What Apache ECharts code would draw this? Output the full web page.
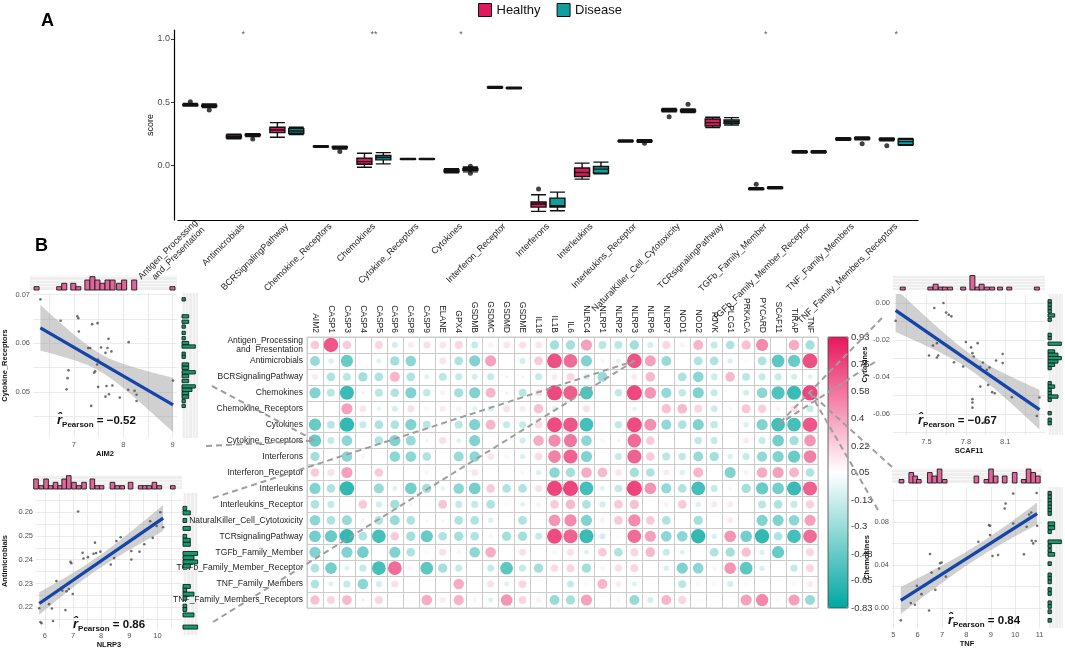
<!DOCTYPE html>
<html>
<head>
<meta charset="utf-8">
<script src="https://cdn.jsdelivr.net/npm/echarts@6/dist/echarts.min.js"></script>
<style>
  html, body { margin: 0; padding: 0; background: #fff; }
  #main { width: 1065px; height: 650px; }
</style>
</head>
<body>
<div id="main"></div>
<script>
// ---------- panel A: pathway scores ----------
const groups = ['Healthy', 'Disease'];
const pathways = ['Antigen_Processing\nand_Presentation', 'Antimicrobials', 'BCRSignalingPathway',
  'Chemokine_Receptors', 'Chemokines', 'Cytokine_Receptors', 'Cytokines', 'Interferon_Receptor',
  'Interferons', 'Interleukins', 'Interleukins_Receptor', 'NaturalKiller_Cell_Cytotoxicity',
  'TCRsignalingPathway', 'TGFb_Family_Member', 'TGFb_Family_Member_Receptor',
  'TNF_Family_Members', 'TNF_Family_Members_Receptors'];
// [min, Q1, median, Q3, max]
const healthyBox = [
  [0.470, 0.474, 0.478, 0.483, 0.490], [0.212, 0.218, 0.228, 0.240, 0.248],
  [0.223, 0.260, 0.281, 0.302, 0.339], [0.143, 0.147, 0.150, 0.153, 0.157],
  [-0.013, 0.010, 0.031, 0.058, 0.097], [0.048, 0.050, 0.052, 0.054, 0.056],
  [-0.058, -0.050, -0.042, -0.035, -0.025], [0.610, 0.614, 0.617, 0.620, 0.624],
  [-0.362, -0.328, -0.304, -0.288, -0.231], [-0.107, -0.087, -0.055, -0.020, 0.019],
  [0.186, 0.191, 0.194, 0.197, 0.202], [0.425, 0.433, 0.438, 0.443, 0.450],
  [0.299, 0.312, 0.339, 0.367, 0.381], [-0.192, -0.188, -0.184, -0.180, -0.175],
  [0.098, 0.104, 0.108, 0.112, 0.118], [0.200, 0.206, 0.210, 0.214, 0.220],
  [0.196, 0.203, 0.207, 0.211, 0.218]
];
const diseaseBox = [
  [0.458, 0.467, 0.472, 0.477, 0.486], [0.228, 0.236, 0.241, 0.246, 0.252],
  [0.244, 0.255, 0.273, 0.291, 0.302], [0.130, 0.140, 0.144, 0.148, 0.153],
  [0.013, 0.045, 0.063, 0.079, 0.102], [0.048, 0.050, 0.052, 0.054, 0.056],
  [-0.050, -0.038, -0.031, -0.024, -0.012], [0.605, 0.609, 0.612, 0.615, 0.619],
  [-0.357, -0.328, -0.317, -0.257, -0.210], [-0.065, -0.060, -0.028, -0.008, 0.027],
  [0.184, 0.190, 0.194, 0.198, 0.203], [0.418, 0.427, 0.433, 0.438, 0.446],
  [0.320, 0.333, 0.346, 0.360, 0.378], [-0.183, -0.179, -0.176, -0.172, -0.168],
  [0.098, 0.104, 0.108, 0.112, 0.118], [0.203, 0.210, 0.215, 0.220, 0.226],
  [0.160, 0.165, 0.189, 0.207, 0.214]
];
// [pathway index, value]
const healthyOutliers = [[0, 0.504], [8, -0.186], [11, 0.386], [13, -0.147], [16, 0.157]];
const diseaseOutliers = [[0, 0.438], [1, 0.210], [3, 0.110], [6, -0.006], [6, -0.060],
  [10, 0.176], [11, 0.483], [15, 0.171]];
const sigMarks = ['', '*', '', '', '**', '', '*', '', '', '', '', '', '', '*', '', '', '*'];
const scoreTicks = [0, 0.5, 1];

// ---------- panel B: correlation matrix ----------
const corrRows = ['Antigen_Processing\nand  Presentation', 'Antimicrobials', 'BCRSignalingPathway',
  'Chemokines', 'Chemokine_Receptors', 'Cytokines', 'Cytokine_Receptors', 'Interferons',
  'Interferon_Receptor', 'Interleukins', 'Interleukins_Receptor', 'NaturalKiller_Cell_Cytotoxicity',
  'TCRsignalingPathway', 'TGFb_Family_Member', 'TGFb_Family_Member_Receptor',
  'TNF_Family_Members', 'TNF_Family_Members_Receptors'];
const genes = ['AIM2', 'CASP1', 'CASP3', 'CASP4', 'CASP5', 'CASP6', 'CASP8', 'CASP9', 'ELANE', 'GPX4',
  'GSDMB', 'GSDMC', 'GSDMD', 'GSDME', 'IL18', 'IL1B', 'IL6', 'NLRC4', 'NLRP1', 'NLRP2', 'NLRP3',
  'NLRP6', 'NLRP7', 'NOD1', 'NOD2', 'PJVK', 'PLCG1', 'PRKACA', 'PYCARD', 'SCAF11', 'TIRAP', 'TNF'];
const corrValues = [
  [0.3, 0.85, 0.3, 0, 0.25, -0.15, 0.15, 0.2, 0.18, 0.25, -0.2, 0.12, 0.18, 0.2, 0.18, -0.35, -0.35, 0.5, -0.25, -0.25, -0.35, -0.15, 0.25, 0.12, 0.4, -0.2, -0.3, 0.35, 0.6, 0, 0.45, -0.35],
  [-0.4, -0.12, -0.6, 0, -0.1, -0.35, -0.45, 0, 0.18, -0.3, -0.5, 0.5, 0, -0.15, 0.3, 0.88, 0.75, -0.5, 0.1, -0.1, 0.86, 0.5, -0.4, 0.05, -0.3, -0.3, -0.12, 0.08, -0.3, -0.65, -0.6, 0.88],
  [0.15, -0.3, -0.25, -0.35, -0.3, 0.4, -0.3, -0.1, -0.25, -0.2, -0.15, -0.2, -0.05, -0.05, -0.2, 0.15, 0.25, -0.15, -0.4, 0, 0.15, 0.38, 0.05, -0.3, -0.45, -0.18, 0.38, -0.25, -0.2, -0.2, -0.15, -0.1],
  [-0.5, -0.25, -0.8, -0.05, -0.25, -0.3, -0.5, -0.22, 0.12, -0.35, -0.5, 0.4, -0.05, -0.25, 0.2, 0.92, 0.82, -0.7, 0, -0.22, 0.92, 0.55, -0.42, -0.22, -0.5, -0.2, 0, -0.15, -0.45, -0.7, -0.8, 0.93],
  [0, 0.02, 0.5, 0.18, -0.08, -0.15, 0.2, 0.1, 0.15, 0.12, -0.1, -0.15, 0.2, 0.15, 0.35, -0.12, 0, 0.2, 0.05, 0, -0.08, 0, 0.35, 0.38, 0.25, -0.18, 0.1, 0.32, 0.28, 0.12, 0.2, -0.2],
  [-0.6, -0.25, -0.83, -0.2, -0.3, -0.3, -0.5, -0.25, 0.1, -0.25, -0.5, 0.4, -0.2, -0.2, 0.22, 0.9, 0.85, -0.75, 0.05, -0.22, 0.9, 0.58, -0.42, -0.3, -0.5, -0.22, 0, -0.12, -0.5, -0.75, -0.75, 0.85],
  [-0.6, -0.2, -0.45, 0, -0.3, -0.5, -0.4, -0.05, 0.2, -0.1, -0.5, 0, 0.1, -0.15, 0.45, 0.6, 0.7, -0.45, 0.1, -0.05, 0.75, 0.3, 0.05, 0, -0.22, -0.2, 0.05, 0.15, -0.2, -0.55, -0.35, 0.55],
  [-0.35, 0, -0.45, 0.1, 0, -0.45, -0.45, -0.3, 0.03, -0.4, -0.45, 0.18, 0.1, -0.12, 0.22, 0.65, 0.8, -0.5, 0.05, -0.2, 0.8, 0.3, -0.25, -0.22, -0.4, -0.35, -0.12, -0.2, -0.42, -0.5, -0.6, 0.65],
  [0.3, 0.2, 0.5, 0.05, 0.3, 0, 0, 0.1, 0, 0, 0.18, 0, 0.05, 0.1, -0.12, -0.45, -0.35, 0.45, 0.38, 0.18, -0.35, -0.3, 0.15, -0.12, 0.4, 0, -0.5, 0.12, 0.45, 0.5, 0.4, -0.3],
  [-0.5, -0.3, -0.83, 0, -0.4, -0.1, -0.55, -0.35, -0.08, -0.45, -0.55, 0.3, -0.3, -0.3, 0.2, 0.93, 0.93, -0.75, -0.1, -0.22, 0.93, 0.55, -0.42, -0.3, -0.75, -0.2, 0.1, -0.35, -0.6, -0.55, -0.8, 0.8],
  [-0.3, -0.2, 0.05, 0.3, -0.15, -0.35, -0.05, 0.03, 0.32, -0.2, -0.2, -0.3, 0.08, -0.1, 0.12, 0.3, 0.38, -0.3, -0.15, 0.3, 0.35, 0.05, 0.12, 0.3, -0.12, 0.15, 0.15, 0, -0.25, -0.3, -0.2, 0.28],
  [-0.45, -0.3, -0.4, -0.05, -0.3, -0.4, -0.3, -0.03, -0.03, -0.3, -0.3, -0.12, 0, -0.3, 0.03, 0.55, 0.6, -0.5, 0.12, 0.3, 0.6, 0.3, -0.3, 0.03, -0.35, 0, 0.15, 0.03, -0.5, -0.5, -0.45, 0.5],
  [-0.55, -0.6, -0.83, -0.3, -0.75, 0.3, -0.35, -0.6, -0.3, -0.35, -0.3, 0.1, -0.35, -0.35, -0.2, 0.9, 0.8, -0.8, -0.15, 0.08, 0.75, 0.5, -0.45, -0.45, -0.83, -0.12, 0.55, -0.55, -0.83, -0.3, -0.75, 0.75],
  [-0.5, 0.05, -0.5, -0.55, 0.05, -0.5, -0.3, 0.08, 0.2, 0.1, -0.45, 0.45, 0.05, 0.2, 0, 0.1, 0.2, -0.1, 0.3, -0.3, 0.25, 0.38, -0.2, -0.1, 0.03, -0.3, -0.35, 0.35, -0.12, -0.6, 0.05, 0.25],
  [-0.3, -0.55, -0.1, -0.2, -0.75, 0.75, 0.1, -0.65, -0.35, -0.2, 0.03, -0.2, -0.65, -0.2, -0.35, 0.22, 0.25, -0.35, 0.1, 0.2, 0.25, 0.03, -0.12, -0.5, -0.45, 0.1, 0.55, -0.65, -0.12, 0.03, -0.2, 0.25],
  [-0.3, -0.1, -0.2, -0.45, -0.15, 0.2, 0.03, 0, 0, 0.45, 0.03, 0.2, -0.1, 0.25, 0, 0.03, -0.2, 0.08, 0.4, 0.15, -0.1, 0.03, 0.03, -0.25, 0.1, 0.1, -0.15, 0.08, 0.05, 0.05, 0.1, 0.15],
  [0.35, 0.25, 0.38, -0.05, 0.25, 0, 0, 0.45, 0.15, 0.42, 0.1, -0.1, 0.55, 0.25, 0.12, -0.4, -0.35, 0.5, 0, 0.1, -0.4, -0.15, 0.4, 0.25, 0.03, 0.05, 0, 0.5, 0.62, 0.08, 0.5, -0.4]
];
const colorBarTicks = [-0.83, -0.65, -0.48, -0.3, -0.13, 0.05, 0.22, 0.4, 0.58, 0.75, 0.93];

// ---------- panel B: example scatter plots ----------
const tlPoints = [[6.32, 0.0690], [6.73, 0.0646], [7.07, 0.0655], [7.09, 0.0651], [7.10, 0.0624], [7.37, 0.0639],
  [7.48, 0.0641], [7.70, 0.0609], [7.29, 0.0590], [7.33, 0.0590], [7.55, 0.0591], [7.68, 0.0590], [7.64, 0.0580],
  [7.76, 0.0583], [8.11, 0.0602], [7.49, 0.0566], [7.47, 0.0556], [7.43, 0.0542], [7.41, 0.0539], [6.89, 0.0544],
  [6.87, 0.0528], [6.85, 0.0505], [7.49, 0.0510], [7.66, 0.0512], [7.78, 0.0513], [7.71, 0.0495], [7.64, 0.0490],
  [7.93, 0.0488], [8.10, 0.0504], [8.23, 0.0502], [8.27, 0.0494], [8.27, 0.0481], [9.01, 0.0523], [7.35, 0.0471]];
const tlTopHist = [[6.30, 1], [6.75, 1], [6.85, 2], [7.03, 2], [7.13, 1], [7.31, 3], [7.41, 4], [7.51, 3], [7.61, 2],
  [7.71, 3], [7.81, 3], [7.94, 2], [8.04, 3], [8.24, 3], [9.00, 1]];
const tlRightHist = [[0.0690, 1], [0.0655, 2], [0.0644, 2], [0.0634, 1], [0.0621, 1], [0.0610, 1], [0.0600, 2],
  [0.0593, 4], [0.0578, 1], [0.0572, 1], [0.0556, 2], [0.0549, 2], [0.0540, 4], [0.0532, 2], [0.0522, 2],
  [0.0511, 4], [0.0504, 3], [0.0497, 2], [0.0490, 2], [0.0481, 1], [0.0471, 1]];

const blPoints = [[5.80, 0.2196], [5.84, 0.2138], [5.88, 0.2133], [6.15, 0.2213], [6.25, 0.2195], [6.29, 0.2142],
  [6.41, 0.2310], [6.62, 0.2270], [6.73, 0.2188], [6.77, 0.2267], [6.85, 0.2277], [6.91, 0.2391], [6.94, 0.2385],
  [6.99, 0.2256], [7.18, 0.2603], [7.34, 0.2429], [7.37, 0.2405], [7.53, 0.2411], [7.73, 0.2425], [7.78, 0.2472],
  [7.82, 0.2428], [7.97, 0.2434], [8.34, 0.2380], [8.46, 0.2407], [8.54, 0.2479], [8.69, 0.2495], [9.07, 0.2437],
  [9.07, 0.2401], [9.36, 0.2434], [9.53, 0.2465], [9.74, 0.2562], [9.83, 0.2492], [9.97, 0.2542], [10.10, 0.2600],
  [10.20, 0.2537]];
const blTopHist = [[5.79, 3], [5.97, 1], [6.14, 3], [6.30, 1], [6.47, 2], [6.63, 1], [6.77, 3], [6.93, 4], [7.11, 2],
  [7.28, 1], [7.46, 2], [7.75, 3], [7.92, 1], [8.07, 1], [8.45, 2], [8.62, 1], [8.79, 1], [9.08, 2], [9.43, 1],
  [9.58, 1], [9.73, 1], [9.91, 2], [10.08, 1], [10.55, 1]];
const blRightHist = [[0.2619, 1], [0.2601, 2], [0.2570, 1], [0.2538, 2], [0.2506, 1], [0.2490, 2], [0.2474, 2],
  [0.2437, 4], [0.2420, 3], [0.2403, 4], [0.2386, 2], [0.2304, 2], [0.2289, 1], [0.2273, 3], [0.2256, 1],
  [0.2224, 1], [0.2211, 1], [0.2189, 3], [0.2140, 4]];

const trPoints = [[7.266, -0.0096], [7.56, -0.0027], [7.63, 0.0000], [7.65, -0.0051], [7.67, -0.0063], [7.69, -0.0072],
  [7.55, -0.0230], [7.58, -0.0217], [7.52, -0.0284], [7.58, -0.0295], [7.59, -0.0284], [7.71, -0.0320], [7.78, -0.0343],
  [7.80, -0.0211], [7.84, -0.0240], [7.89, -0.0217], [7.85, -0.0271], [7.86, -0.0289], [7.93, -0.0322], [7.91, -0.0343],
  [7.98, -0.0349], [8.03, -0.0311], [8.08, -0.0276], [8.08, -0.0325], [7.96, -0.0361], [7.97, -0.0443], [7.91, -0.0452],
  [8.00, -0.0482], [8.02, -0.0488], [7.85, -0.0520], [7.85, -0.0538], [7.85, -0.0566], [7.94, -0.0647], [8.15, -0.0510],
  [8.36, -0.0511], [8.34, -0.0611]];
const trTopHist = [[7.32, 1], [7.53, 1], [7.57, 2], [7.61, 1], [7.64, 1], [7.68, 1], [7.78, 1], [7.85, 5], [7.89, 1],
  [7.92, 2], [7.96, 1], [8.00, 1], [8.06, 1], [8.13, 1], [8.34, 1]];
const trRightHist = [[0.0009, 1], [-0.0009, 1], [-0.0027, 1], [-0.0045, 1], [-0.0067, 2], [-0.0090, 1], [-0.0172, 1],
  [-0.0190, 1], [-0.0220, 4], [-0.0262, 2], [-0.0280, 3], [-0.0298, 4], [-0.0316, 3], [-0.0334, 2], [-0.0352, 1],
  [-0.0434, 1], [-0.0452, 2], [-0.0470, 1], [-0.0488, 1], [-0.0506, 3], [-0.0524, 1], [-0.0596, 1], [-0.0632, 1],
  [-0.0650, 1]];

const brPoints = [[5.31, -0.0114], [5.72, 0.0046], [5.89, 0.0031], [5.97, 0.0206], [6.16, 0.0129], [6.47, -0.0022],
  [6.51, 0.0502], [6.57, 0.0329], [6.73, 0.0169], [6.88, 0.0366], [6.92, 0.0415], [6.98, 0.0422], [7.16, 0.0292],
  [8.49, 0.0615], [8.93, 0.0769], [8.97, 0.0763], [8.97, 0.0677], [9.07, 0.0483], [9.30, 0.0492], [9.57, 0.0923],
  [9.61, 0.0969], [9.92, 0.1062], [9.92, 0.0785], [10.36, 0.0498], [10.47, 0.0754], [10.57, 0.0868], [10.66, 0.0886],
  [10.68, 0.0625], [10.74, 0.0600], [10.84, 0.0622], [10.88, 0.1068], [10.90, 0.0763]];
const brTopHist = [[5.34, 1], [5.74, 3], [5.90, 2], [6.05, 1], [6.50, 3], [6.69, 2], [6.90, 4], [7.11, 1], [8.41, 2],
  [8.82, 1], [9.01, 4], [9.20, 2], [9.57, 2], [9.98, 3], [10.35, 1], [10.55, 4], [10.74, 3], [10.93, 2]];
const brRightHist = [[0.1065, 1], [0.1031, 1], [0.1000, 1], [0.0969, 1], [0.0938, 1], [0.0908, 1], [0.0877, 1],
  [0.0782, 2], [0.0745, 2], [0.0708, 1], [0.0615, 4], [0.0575, 1], [0.0535, 1], [0.0498, 2], [0.0412, 1],
  [0.0308, 1], [0.0277, 1], [0.0243, 1], [0.0172, 1], [0.0135, 1], [0.0049, 1], [0.0015, 1], [-0.0034, 1],
  [-0.0114, 1]];

const pearsonR = ['−0.52', '0.86', '−0.67', '0.84'];

// ---------- styles / layout ----------
const PINK = '#E8175D', TEAL = '#00A7A1';
const BOX_PINK = '#E2185E', BOX_TEAL = '#139E9E';
const HIST_PINK = '#E0669A', HIST_GREEN = '#0F9E6E';
const FONT = 'Liberation Sans, Arial, Helvetica, sans-serif';

const panels = [
  { pts: tlPoints, topH: tlTopHist, rightH: tlRightHist, xName: 'AIM2', yName: 'Cytokine_Receptors', r: pearsonR[0],
    main: [30, 293, 147, 145], topBox: [30, 275, 147, 15], rightBox: [182, 293, 16, 145],
    xr: [6.17, 9.09], yr: [0.0405, 0.0703], xt: [7, 8, 9], xm: [6.5, 7.5, 8.5], xd: 0,
    yt: [0.05, 0.06, 0.07], ym: [0.045, 0.055, 0.065], yd: 2,
    bx: 0.05, by: 0.00034, topMax: 4.5, rightMax: 4.8, xGap: 10, yGap: 24, lab: [52, 407] },
  { pts: blPoints, topH: blTopHist, rightH: blRightHist, xName: 'NLRP3', yName: 'Antimicrobials', r: pearsonR[1],
    main: [33, 493, 149, 142], topBox: [33, 475, 149, 14], rightBox: [183, 493, 15, 142],
    xr: [5.685, 10.87], yr: [0.2108, 0.2681], xt: [6, 7, 8, 9, 10], xm: [6.5, 7.5, 8.5, 9.5, 10.5], xd: 0,
    yt: [0.22, 0.23, 0.24, 0.25, 0.26], ym: [0.215, 0.225, 0.235, 0.245, 0.255, 0.265], yd: 2,
    bx: 0.08, by: 0.0008, topMax: 4.2, rightMax: 4.1, xGap: 10, yGap: 27, lab: [68, 611] },
  { pts: trPoints, topH: trTopHist, rightH: trRightHist, xName: 'SCAF11', yName: 'Cytokines', r: pearsonR[2],
    main: [893, 294, 152, 141], topBox: [893, 275, 152, 15], rightBox: [1048, 294, 15, 141],
    xr: [7.246, 8.402], yr: [-0.0714, 0.0049], xt: [7.5, 7.8, 8.1], xm: [7.35, 7.65, 7.95, 8.25], xd: 1,
    yt: [-0.06, -0.04, -0.02, 0], ym: [-0.07, -0.05, -0.03, -0.01], yd: 2,
    bx: 0.019, by: 0.0009, topMax: 5.2, rightMax: 4.5, xGap: 11, yGap: 13, lab: [913, 407] },
  { pts: brPoints, topH: brTopHist, rightH: brRightHist, xName: 'TNF', yName: 'Chemokines', r: pearsonR[3],
    main: [892, 487, 150, 141], topBox: [892, 468, 150, 15], rightBox: [1048, 487, 15, 141],
    xr: [4.95, 11.1], yr: [-0.0185, 0.1123], xt: [5, 6, 7, 8, 9, 10, 11], xm: [], xd: 0,
    yt: [0, 0.04, 0.08], ym: [-0.02, 0.02, 0.06, 0.1], yd: 2,
    bx: 0.095, by: 0.0017, topMax: 4.3, rightMax: 4.5, xGap: 11, yGap: 9, lab: [943, 607] }
];

// links from matrix cells to the example plots (scatter-side ends are layout anchors)
const links = [
  { gene: 'AIM2', row: 'Cytokine_Receptors', ends: [[212, 386], [206, 446]] },
  { gene: 'NLRP3', row: 'Antimicrobials', ends: [[213, 498], [213, 622]] },
  { gene: 'SCAF11', row: 'Cytokines', ends: [[882, 318], [875, 362]] },
  { gene: 'TNF', row: 'Chemokines', ends: [[892, 467], [878, 510]] }
];

// least squares fit with 95% confidence band (as geom_smooth(method = 'lm'))
function lmFit(pts) {
  const n = pts.length;
  const mx = pts.reduce((s, p) => s + p[0], 0) / n;
  const my = pts.reduce((s, p) => s + p[1], 0) / n;
  let sxx = 0, sxy = 0;
  pts.forEach(p => { sxx += (p[0] - mx) ** 2; sxy += (p[0] - mx) * (p[1] - my); });
  const b = sxy / sxx, a = my - b * mx;
  let sse = 0;
  pts.forEach(p => { sse += (p[1] - a - b * p[0]) ** 2; });
  const s2 = sse / (n - 2), t = 2.03;
  const xmin = Math.min(...pts.map(p => p[0])), xmax = Math.max(...pts.map(p => p[0]));
  const upper = [], lower = [];
  for (let i = 0; i <= 40; i++) {
    const x = xmin + (xmax - xmin) * i / 40;
    const yh = a + b * x;
    const hw = t * Math.sqrt(s2 * (1 / n + (x - mx) ** 2 / sxx));
    upper.push([x, yh + hw]);
    lower.push([x, yh - hw]);
  }
  return { line: [[xmin, a + b * xmin], [xmax, a + b * xmax]], upper, lower };
}

function vHist(half, fill) {
  return function (params, api) {
    const c = api.value(0), n = api.value(1);
    const p0 = api.coord([c - half, 0]), p1 = api.coord([c + half, n]);
    return { type: 'rect', shape: { x: p0[0], y: p1[1], width: p1[0] - p0[0], height: p0[1] - p1[1] },
      style: { fill: fill, stroke: '#1a1a1a', lineWidth: 0.9 } };
  };
}
function hHist(half, fill) {
  return function (params, api) {
    const c = api.value(0), n = api.value(1);
    const p0 = api.coord([0, c - half]), p1 = api.coord([n, c + half]);
    return { type: 'rect', shape: { x: p0[0], y: p1[1], width: p1[0] - p0[0], height: p0[1] - p1[1] },
      style: { fill: fill, stroke: '#1a1a1a', lineWidth: 0.9 } };
  };
}

const grids = [
  { left: 178, top: 30, width: 740, height: 190 },
  { left: 307, top: 337, width: 511, height: 271, show: true, borderColor: '#CCCCCC', borderWidth: 1, backgroundColor: 'transparent' },
  { left: 828, top: 337, width: 20, height: 271 }
];
const xAxes = [
  { type: 'category', gridIndex: 0, data: pathways,
    axisLine: { onZero: false, lineStyle: { color: '#000', width: 1.2 } },
    axisTick: { alignWithLabel: true, length: 3, lineStyle: { color: '#333' } },
    axisLabel: { rotate: 45, interval: 0, fontSize: 9, color: '#222', margin: 5, lineHeight: 10 } },
  { type: 'value', gridIndex: 0, min: -0.5, max: 16.5, show: false },
  { type: 'category', gridIndex: 1, position: 'top', data: genes,
    axisLine: { show: false }, axisTick: { show: false },
    axisLabel: { rotate: 90, interval: 0, fontSize: 8.5, color: '#222', margin: 4 },
    splitLine: { show: true, interval: 0, lineStyle: { color: '#CCCCCC', width: 1 } } },
  { type: 'value', gridIndex: 2, show: false, min: 0, max: 1 }
];
const yAxes = [
  { type: 'value', gridIndex: 0, min: -0.43, max: 1.07, offset: 4,
    name: 'score', nameLocation: 'middle', nameGap: 19, nameMoveOverlap: false,
    nameTextStyle: { fontSize: 9, color: '#111' },
    axisLine: { show: true, onZero: false, lineStyle: { color: '#000', width: 1.2 } },
    axisTick: { show: true, length: 3, customValues: scoreTicks, lineStyle: { color: '#333' } },
    axisLabel: { customValues: scoreTicks, fontSize: 9, color: '#4D4D4D', margin: 4, formatter: v => v.toFixed(1) },
    splitLine: { show: false } },
  { type: 'category', gridIndex: 1, data: corrRows, inverse: true,
    axisLine: { show: false }, axisTick: { show: false },
    axisLabel: { interval: 0, fontSize: 8.5, color: '#222', margin: 4, lineHeight: 9 },
    splitLine: { show: true, interval: 0, lineStyle: { color: '#CCCCCC', width: 1 } } },
  { type: 'value', gridIndex: 2, position: 'right', min: -0.83, max: 0.93,
    axisLine: { show: false }, axisTick: { show: false }, splitLine: { show: false },
    axisLabel: { customValues: colorBarTicks, fontSize: 9.5, color: '#333', margin: 3, formatter: v => String(v) } }
];

const corrData = [];
corrValues.forEach((row, ri) => row.forEach((v, ci) => corrData.push([ci, ri, v])));

const series = [
  { type: 'boxplot', name: groups[0], xAxisIndex: 0, yAxisIndex: 0, data: healthyBox, boxWidth: [15, 15],
    itemStyle: { color: BOX_PINK, borderColor: '#111', borderWidth: 1.4 } },
  { type: 'boxplot', name: groups[1], xAxisIndex: 0, yAxisIndex: 0, data: diseaseBox, boxWidth: [15, 15],
    itemStyle: { color: BOX_TEAL, borderColor: '#111', borderWidth: 1.4 } },
  { type: 'scatter', xAxisIndex: 1, yAxisIndex: 0, symbolSize: 5, itemStyle: { color: '#111' },
    data: healthyOutliers.map(d => [d[0] - 0.217, d[1]]) },
  { type: 'scatter', xAxisIndex: 1, yAxisIndex: 0, symbolSize: 5, itemStyle: { color: '#111' },
    data: diseaseOutliers.map(d => [d[0] + 0.217, d[1]]) },
  { type: 'scatter', xAxisIndex: 1, yAxisIndex: 0, symbolSize: 1, itemStyle: { color: 'transparent' },
    data: sigMarks.map((m, i) => [i, 1.035, m]).filter(d => d[2]),
    label: { show: true, position: 'inside', formatter: p => p.data[2], fontSize: 9, color: '#333' } },
  { type: 'scatter', xAxisIndex: 2, yAxisIndex: 1, data: corrData,
    symbolSize: v => 15.2 * Math.sqrt(Math.abs(v[2]) / 0.93) }
];

const titles = [
  { text: 'A', left: 36, top: 7, textStyle: { fontSize: 18, fontWeight: 'bold', color: '#000', fontFamily: FONT } },
  { text: 'B', left: 30, top: 232, textStyle: { fontSize: 18, fontWeight: 'bold', color: '#000', fontFamily: FONT } }
];

panels.forEach((p, s) => {
  const g = 3 + 3 * s, xi = 4 + 3 * s, yi = 3 + 3 * s;
  grids.push({ left: p.main[0], top: p.main[1], width: p.main[2], height: p.main[3] });
  grids.push({ left: p.topBox[0], top: p.topBox[1], width: p.topBox[2], height: p.topBox[3],
    show: true, backgroundColor: '#EEEEEE', borderWidth: 0 });
  grids.push({ left: p.rightBox[0], top: p.rightBox[1], width: p.rightBox[2], height: p.rightBox[3],
    show: true, backgroundColor: '#EEEEEE', borderWidth: 0 });
  const gridLine = { show: true, lineStyle: { color: '#E4E4E4', width: 0.8 } };
  xAxes.push({ type: 'value', gridIndex: g, min: p.xr[0], max: p.xr[1],
    name: p.xName, nameLocation: 'middle', nameGap: p.xGap,
    nameTextStyle: { fontSize: 7.5, fontWeight: 'bold', color: '#111' },
    axisLine: { show: false }, axisTick: { show: false, customValues: p.xt.concat(p.xm) },
    axisLabel: { customValues: p.xt, fontSize: 7.5, color: '#555', margin: 3, formatter: v => v.toFixed(p.xd) },
    splitLine: gridLine });
  xAxes.push({ type: 'value', gridIndex: g + 1, min: p.xr[0], max: p.xr[1], show: false });
  xAxes.push({ type: 'value', gridIndex: g + 2, min: 0, max: p.rightMax, interval: 1,
    axisLine: { show: false }, axisTick: { show: false }, axisLabel: { show: false },
    splitLine: { show: true, lineStyle: { color: '#FFFFFF', width: 0.6 } } });
  yAxes.push({ type: 'value', gridIndex: g, min: p.yr[0], max: p.yr[1],
    name: p.yName, nameLocation: 'middle', nameGap: p.yGap,
    nameTextStyle: { fontSize: 7.5, fontWeight: 'bold', color: '#111' },
    axisLine: { show: false }, axisTick: { show: false, customValues: p.yt.concat(p.ym) },
    axisLabel: { customValues: p.yt, fontSize: 7.5, color: '#555', margin: 3, formatter: v => v.toFixed(p.yd) },
    splitLine: gridLine });
  yAxes.push({ type: 'value', gridIndex: g + 1, min: 0, max: p.topMax, interval: 1,
    axisLine: { show: false }, axisTick: { show: false }, axisLabel: { show: false },
    splitLine: { show: true, lineStyle: { color: '#FFFFFF', width: 0.6 } } });
  yAxes.push({ type: 'value', gridIndex: g + 2, min: p.yr[0], max: p.yr[1], show: false });

  const fit = lmFit(p.pts);
  series.push({ type: 'scatter', xAxisIndex: xi, yAxisIndex: yi, data: p.pts, symbolSize: 2.6,
    itemStyle: { color: '#555', opacity: 0.85 } });
  series.push({ type: 'custom', xAxisIndex: xi, yAxisIndex: yi, data: [fit.line[0]], clip: true,
    renderItem: (params, api) => ({
      type: 'polygon',
      shape: { points: fit.upper.concat(fit.lower.slice().reverse()).map(q => api.coord(q)) },
      style: { fill: 'rgba(150,150,150,0.45)' }
    }) });
  series.push({ type: 'line', xAxisIndex: xi, yAxisIndex: yi, data: fit.line, showSymbol: false,
    lineStyle: { color: '#1346A8', width: 3.3 }, z: 4 });
  series.push({ type: 'custom', xAxisIndex: xi + 1, yAxisIndex: yi + 1, data: p.topH,
    renderItem: vHist(p.bx, HIST_PINK) });
  series.push({ type: 'custom', xAxisIndex: xi + 2, yAxisIndex: yi + 2, data: p.rightH,
    renderItem: hHist(p.by, HIST_GREEN) });

  titles.push({ left: p.lab[0], top: p.lab[1],
    text: '{r|r\u0302}{s|Pearson}{e| = ' + p.r + '}',
    textStyle: { fontFamily: FONT, rich: {
      r: { fontSize: 13, fontStyle: 'italic', color: '#111', lineHeight: 17, verticalAlign: 'middle', fontFamily: FONT },
      s: { fontSize: 8, color: '#111', lineHeight: 17, verticalAlign: 'bottom', fontFamily: FONT },
      e: { fontSize: 11.5, color: '#111', lineHeight: 17, verticalAlign: 'middle', fontFamily: FONT }
    } } });
});

const chart = echarts.init(document.getElementById('main'));
chart.setOption({
  animation: false,
  textStyle: { fontFamily: FONT },
  title: titles,
  legend: { data: [
      { name: groups[0], itemStyle: { color: BOX_PINK, borderColor: '#111', borderWidth: 1 } },
      { name: groups[1], itemStyle: { color: BOX_TEAL, borderColor: '#111', borderWidth: 1 } }
    ],
    icon: 'rect', left: 478, top: 3, padding: 0, itemWidth: 13, itemHeight: 13, itemGap: 16,
    textStyle: { fontSize: 13, color: '#111' } },
  visualMap: { type: 'continuous', seriesIndex: 5, dimension: 2, min: -0.83, max: 0.93,
    left: 828, top: 337, itemWidth: 20, itemHeight: 271, padding: 0, calculable: false, hoverLink: false,
    inRange: { color: [TEAL, '#FFFFFF', PINK] } },
  grid: grids,
  xAxis: xAxes,
  yAxis: yAxes,
  series: series
});

// dashed connectors from matrix cells to the example plots, and colour bar outline
const elements = [{ type: 'rect', z: 50, shape: { x: 828, y: 337, width: 20, height: 271 },
  style: { fill: 'none', stroke: '#444', lineWidth: 0.8 } }];
links.forEach(l => {
  const c = chart.convertToPixel({ gridIndex: 1 }, [genes.indexOf(l.gene), corrRows.indexOf(l.row)]);
  l.ends.forEach(e => {
    elements.push({ type: 'line', z: 100, shape: { x1: e[0], y1: e[1], x2: c[0], y2: c[1] },
      style: { stroke: '#9E9E9E', lineWidth: 2, lineDash: [6, 4] } });
  });
});
chart.setOption({ graphic: { elements: elements } });
</script>
</body>
</html>
